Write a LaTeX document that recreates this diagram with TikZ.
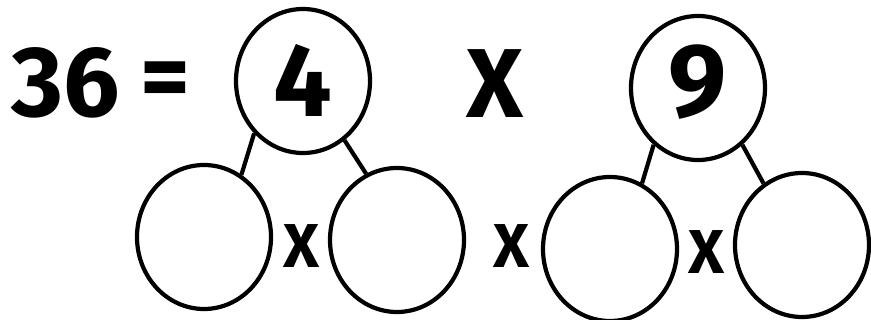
\documentclass[tikz,border=0pt]{standalone}
\usepackage{fontspec}
\setmainfont{Fira Sans}
\usetikzlibrary{shapes.geometric}

\begin{document}
\begin{tikzpicture}[
  x=1pt, y=-1pt,
  ring/.style={draw, ellipse, line width=4.2pt, minimum width=134pt, minimum height=144pt, inner sep=0pt},
  big/.style={font=\fontsize{104}{104}\selectfont\bfseries, inner sep=0pt},
  times/.style={font=\fontsize{62}{62}\selectfont\bfseries, inner sep=0pt},
  stem/.style={line width=4.2pt},
]
\useasboundingbox (0,0) rectangle (871,320);

% top row
\node[big, font=\fontsize{100}{100}\selectfont\bfseries, anchor=base west] (num) at (11,117) {36};
\node[big, font=\fontsize{96}{96}\selectfont\bfseries] (eq) at (165,86) {=};
\node[ring] (four) at (303,81) {};
\node[big] at (303,80) {4};
\node[big, font=\fontsize{98}{98}\selectfont\bfseries] (mul) at (495,84) {X};
\node[ring] (nine) at (698,88) {};
\node[big] at (698,82) {9};

% bottom row
\node[ring] (a) at (204,237) {};
\node[ring] (b) at (397,240) {};
\node[ring] (c) at (610,249) {};
\node[ring] (d) at (802,245) {};
\node[times] (m1) at (302,246) {X};
\node[times] (m2) at (512,246) {X};
\node[times] (m3) at (707,252) {X};

\draw[stem] (four.227) -- (a.59);
\draw[stem] (four.305) -- (b.115);
\draw[stem] (nine.232) -- (c.64);
\draw[stem] (nine.308) -- (d.122);
\end{tikzpicture}
\end{document}
